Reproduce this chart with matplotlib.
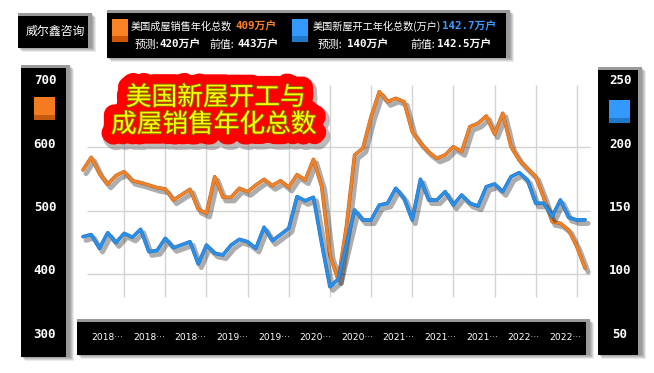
import matplotlib
matplotlib.use('Agg')
import matplotlib.pyplot as plt
import matplotlib.transforms as mtransforms
from matplotlib.patches import Rectangle
from matplotlib import patheffects as pe
import numpy as np

# ---------------- data ----------------
# monthly, Oct 2017 .. Nov 2022 (62 points)
existing_sales = [563.8, 583.8, 558, 541.3, 555, 561.1, 546.9, 544, 540, 536,
                  534, 516.5, 525, 533.4, 501.9, 495.6, 553.2, 520.8, 520.8, 535,
                  529.6, 540, 549.1, 539.1, 546.9, 536.5, 556.4, 548, 580.6, 537.5,
                  429.9, 390.6, 474.5, 587.4, 598, 647.7, 687.1, 671.3, 676.7, 671.3,
                  624.1, 605.8, 592, 582.2, 587.4, 600.5, 592.6, 632, 637.3, 648.8,
                  620.5, 653.1, 600.5, 579.5, 566, 553.2, 519.2, 482.4, 479.8, 469.3,
                  443, 409]
housing_starts = [129.4, 131, 120.2, 132.5, 124.6, 132.0, 128.9, 135.2, 117.6, 118.5,
                  128.1, 120.7, 123, 125.4, 107.9, 122.8, 116.3, 115, 122.8, 127.3,
                  125.4, 120.2, 136.8, 126.2, 131, 136, 160.9, 157.7, 160.4, 124,
                  90, 95.8, 123, 150.4, 142.5, 142.5, 154.3, 155.7, 167.5, 159.6,
                  142.5, 174.6, 158.3, 158.3, 164.8, 154.3, 162.2, 155.7, 153.5, 168.7,
                  170.9, 164.8, 176.6, 179.8, 174, 155.7, 155.7, 145.1, 158.3, 144.6,
                  142.5, 142.7]
x_labels = ["2018\u00b7\u00b7\u00b7", "2018\u00b7\u00b7\u00b7", "2018\u00b7\u00b7\u00b7",
            "2019\u00b7\u00b7\u00b7", "2019\u00b7\u00b7\u00b7", "2020\u00b7\u00b7\u00b7",
            "2020\u00b7\u00b7\u00b7", "2021\u00b7\u00b7\u00b7", "2021\u00b7\u00b7\u00b7",
            "2021\u00b7\u00b7\u00b7", "2022\u00b7\u00b7\u00b7", "2022\u00b7\u00b7\u00b7"]
left_ticks = [700, 600, 500, 400, 300]
right_ticks = [250, 200, 150, 100, 50]
sales_name = "美国成屋销售年化总数"
starts_name = "美国新屋开工年化总数(万户)"
sales_now, sales_fc, sales_prev = 409, 420, 443
starts_now, starts_fc, starts_prev = 142.7, 140, 142.5
title_lines = ["美国新屋开工与", "成屋销售年化总数"]
brand = "威尔鑫咨询"

ORANGE = '#F0822A'
BLUE = '#2B8FE8'
CJK = ['Noto Sans CJK SC', 'DejaVu Sans']
MONO = ['DejaVu Sans Mono', 'Noto Sans CJK SC']

W, H = 654, 373
fig = plt.figure(figsize=(W / 100, H / 100), dpi=100)
fig.patch.set_facecolor('white')


def fx(x):
    return x / W


def fy(y):
    return 1 - y / H


def prect(x, y, w, h, **kw):
    r = Rectangle((fx(x), fy(y + h)), w / W, h / H, transform=fig.transFigure, **kw)
    fig.add_artist(r)
    return r


def box(x, y, w, h, z=5):
    for i, a in enumerate([0.10, 0.10, 0.10, 0.08]):
        prect(x + 1 + i, y + 1 + i, w, h, fc='black', ec='none', alpha=a, zorder=z)
    prect(x, y, w, h, fc='#9a9a9a', ec='none', zorder=z + 0.1)
    prect(x, y + 3, w - 4, h - 3, fc='black', ec='none', zorder=z + 0.2)


# ---------------- plot axes ----------------
n = len(existing_sales)
xi = np.arange(n)
ax_left_px, ax_right_px = 78.9, 593.3
ax_top_px, ax_bot_px = 83.5, 337.5
ax = fig.add_axes([fx(ax_left_px), fy(ax_bot_px), (ax_right_px - ax_left_px) / W,
                   (ax_bot_px - ax_top_px) / H])
ax.set_xlim(-0.5, 62.0)
ax.set_ylim(300, 700)
ax.axis('off')
ax2 = ax.twinx()
ax2.set_ylim(50, 250)
ax2.axis('off')

ax.hlines([400, 500, 600], 0.49, 61.6, color='#d3d3d3', lw=1.0, zorder=1)
ax.vlines(np.arange(5, 61, 5), 364, 698, color='#d3d3d3', lw=1.0, zorder=1)


def line_fx(edge):
    return [pe.SimpleLineShadow(offset=(2.2, -2.6), shadow_color='black', alpha=0.32, linewidth=3.6),
            pe.Stroke(linewidth=2.6, foreground=edge), pe.Normal()]


ax.plot(xi, existing_sales, color=ORANGE, lw=2.0, solid_joinstyle='round',
        solid_capstyle='round', path_effects=line_fx('#b8601c'), zorder=3)
ax2.plot(xi, housing_starts, color=BLUE, lw=2.0, solid_joinstyle='round',
         solid_capstyle='round', path_effects=line_fx('#1d6cb4'), zorder=3)

# ---------------- boxes ----------------
box(18, 13, 74, 35)
fig.text(fx(55), fy(31), brand, color='white', fontsize=8.6, family=CJK,
         ha='center', va='center', zorder=8)

box(107, 10, 403, 48)
prect(112, 19, 16, 17, fc='#F98324', ec='none', zorder=7)
prect(112, 36, 16, 6, fc='#D0560A', ec='none', zorder=7)
prect(292, 19, 16, 17, fc='#3399FF', ec='none', zorder=7)
prect(292, 36, 16, 6, fc='#1F78C8', ec='none', zorder=7)

hdr = dict(color='white', fontsize=7.3, family=CJK, va='center', ha='left', zorder=8)
num = dict(fontsize=7.8, family=MONO, weight='bold', va='center', ha='left', zorder=8)
fig.text(fx(131), fy(26), sales_name, **hdr)
fig.text(fx(236), fy(26), f"{sales_now}万户", color='#FF7F27', **num)
fig.text(fx(135), fy(44.5), "预测:", fontsize=7.8, **{k: v for k, v in hdr.items() if k != 'fontsize'})
fig.text(fx(160), fy(44.5), f"{sales_fc}万户", color='white', **num)
fig.text(fx(209), fy(44.5), "前值:", fontsize=7.8, **{k: v for k, v in hdr.items() if k != 'fontsize'})
fig.text(fx(237), fy(44.5), f"{sales_prev}万户", color='white', **num)
fig.text(fx(313), fy(26), starts_name, **hdr)
fig.text(fx(442), fy(26), f"{starts_now}万户", color='#3A9BFF', **num)
fig.text(fx(318), fy(44.5), "预测:", fontsize=7.8, **{k: v for k, v in hdr.items() if k != 'fontsize'})
fig.text(fx(347), fy(44.5), f"{starts_fc}万户", color='white', **num)
fig.text(fx(410), fy(44.5), "前值:", fontsize=7.8, **{k: v for k, v in hdr.items() if k != 'fontsize'})
fig.text(fx(437), fy(44.5), f"{starts_prev}万户", color='white', **num)

# left axis box
box(21, 65, 49, 292)
prect(34, 97, 21, 18, fc='#F47B20', ec='none', zorder=7)
prect(34, 115, 21, 5, fc='#C85A10', ec='none', zorder=7)
tl = mtransforms.offset_copy(mtransforms.blended_transform_factory(fig.transFigure, ax.transData),
                             fig=fig, y=3, units='dots')
for v in left_ticks:
    fig.text(fx(45), v, str(v), transform=tl, color='white', fontsize=9, family='DejaVu Sans Mono',
             weight='bold', ha='center', va='center', zorder=8)

# right axis box
box(598, 67, 44, 288)
prect(609, 100, 21, 18, fc='#3399FF', ec='none', zorder=7)
prect(609, 118, 21, 5, fc='#1F78C8', ec='none', zorder=7)
tr = mtransforms.offset_copy(mtransforms.blended_transform_factory(fig.transFigure, ax2.transData),
                             fig=fig, y=3, units='dots')
for v in right_ticks:
    fig.text(fx(620), v, str(v), transform=tr, color='white', fontsize=9, family='DejaVu Sans Mono',
             weight='bold', ha='center', va='center', zorder=8)

# bottom label box
box(77, 319, 513, 36)
tb = mtransforms.blended_transform_factory(ax.transData, fig.transFigure)
label_pos = np.linspace(2.95, 58.6, len(x_labels))
for p, s in zip(label_pos, x_labels):
    fig.text(p, fy(337), s, transform=tb, color='white', fontsize=6.6, family='DejaVu Sans',
             ha='center', va='center', zorder=8)

# ---------------- title ----------------
blob_fx = [pe.Stroke(linewidth=17, foreground='#666666', alpha=0.45, offset=(2, -3)),
           pe.Stroke(linewidth=15, foreground='#FF0000')]
text_fx = [pe.Stroke(linewidth=1.3, foreground='#8a6a00'), pe.Normal()]
title_pos = [(216, 98), (214, 125)]
for (tx, ty), s in zip(title_pos, title_lines):
    fig.text(fx(tx), fy(ty), s, color='#FF0000', fontsize=18.5, family=CJK,
             ha='center', va='center', path_effects=blob_fx, zorder=9)
for (tx, ty), s in zip(title_pos, title_lines):
    fig.text(fx(tx), fy(ty), s, color='#FFFF00', fontsize=18.5, family=CJK,
             ha='center', va='center', path_effects=text_fx, zorder=10)

fig.savefig('out.png', dpi=100)
